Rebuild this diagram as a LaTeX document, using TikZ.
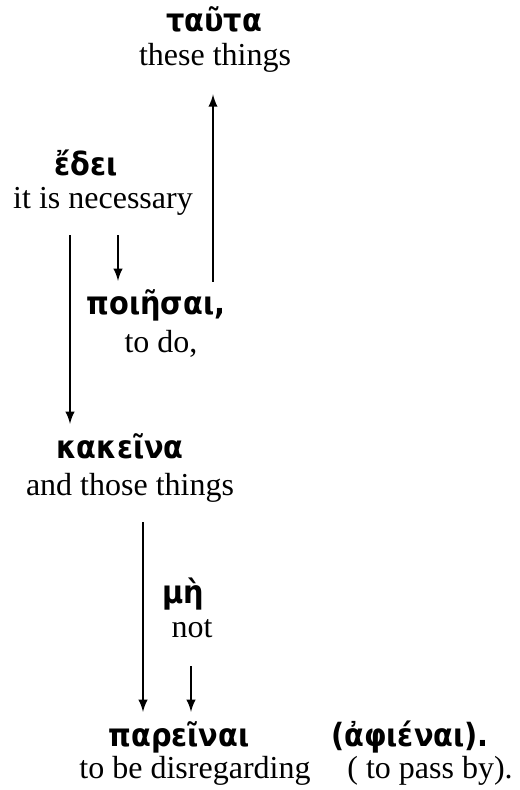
\documentclass[tikz,border=0pt]{standalone}
\usepackage{fontspec}
\setmainfont{Liberation Serif}
\newfontfamily\greekfont{DejaVu Sans Condensed}
\usetikzlibrary{arrows,calc}

\begin{document}
\begin{tikzpicture}[->,>=latex,x=0.375pt,y=-0.375pt,line width=0.6pt,
    greek/.style={font={\fontsize{12}{14}\greekfont\bfseries},inner sep=0pt,
                  text height=8pt,text depth=2.5pt,anchor=base},
    gloss/.style={font={\fontsize{12}{14}\selectfont},inner sep=0pt,
                  text height=8pt,text depth=2.5pt,anchor=base}]
    \useasboundingbox (0,0) rectangle (519,790);

        \node[greek] (Tauta)     at (214,32)  {ταῦτα};
        \node[gloss] (These)     at (215,66)  {these things};
        \node[greek] (Edei)      at (86,176)  {ἔδει};
        \node[gloss] (Necessary) at (103,209) {it is necessary};
        \node[greek] (Poiesai)   at (156,315) {ποιῆσαι,};
        \node[gloss] (ToDo)      at (161,352) {to do,};
        \node[greek] (Kakeina)   at (120,458) {κακεῖνα};
        \node[gloss] (Those)     at (130,495) {and those things};
        \node[greek] (Me)        at (183,603) {μὴ};
        \node[gloss] (Not)       at (192,637) {not};
        \node[greek] (Pareinai)  at (179,746) {παρεῖναι};
        \node[gloss] (Disregard) at (195,778) {to be disregarding};
        \node[greek] (Aphienai)  at (410,746) {(ἀφιέναι).};
        \node[gloss] (PassBy)    at (430,778) {( to pass by).};

        \draw ($(These.south |- Poiesai.north)+(-2,-11)$) -- ($(These.south)+(-2,21)$);
        \draw ($(Kakeina.north |- Necessary.south)+(-50,19)$) -- ($(Kakeina.north)+(-50,-12)$);
        \draw ($(Poiesai.north |- Necessary.south)+(-38,19)$) -- ($(Poiesai.north)+(-38,-12)$);
        \draw ($(Pareinai.north |- Those.south)+(-36,20)$) -- ($(Pareinai.north)+(-36,-12)$);
        \draw ($(Pareinai.north |- Not.south)+(12,22)$) -- ($(Pareinai.north)+(12,-12)$); % to the accent
\end{tikzpicture}
\end{document}
